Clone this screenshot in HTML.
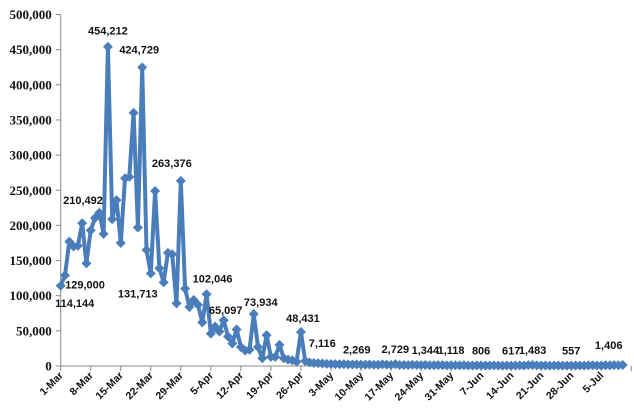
<!DOCTYPE html>
<html><head><meta charset="utf-8"><style>
html,body{margin:0;padding:0;background:#fff;}
svg{display:block;}
.yl{font-family:"Liberation Serif",serif;font-weight:bold;font-size:13px;fill:#111;}
.xl{font-family:"Liberation Sans",sans-serif;font-weight:bold;font-size:10.5px;fill:#111;}
.dl{font-family:"Liberation Sans",sans-serif;font-weight:bold;font-size:11px;fill:#111;}
</style></head><body>
<svg id="chart" width="634" height="408" viewBox="0 0 634 408" xmlns="http://www.w3.org/2000/svg"></svg>
<script>
const values = [114144,129000,177000,170000,171000,203000,146000,193000,210492,218000,188000,454212,209000,236000,175000,267000,269000,360000,197000,424729,165000,131713,249000,139000,119000,161000,159000,89000,263376,
110000,84000,94000,87000,62000,102046,46000,56000,49000,65097,42000,32000,52000,27000,22000,23000,73934,27000,11000,44000,13000,13000,30000,11000,9000,8000,6000,48431,
7116,5200,4300,3900,3600,3100,2900,2700,2500,2600,2300,2100,2269,2000,1900,2200,1800,1700,2400,1900,1600,2729,1500,1400,1300,1700,1500,1200,1344,1100,1000,1300,1200,900,1118,1000,900,1100,800,700,900,806,700,650,900,800,600,700,617,800,900,700,1200,1483,900,800,700,600,750,650,500,600,557,700,800,600,900,1000,700,800,1100,900,1200,1000,1406];
const tickLabels = ["1-Mar","8-Mar","15-Mar","22-Mar","29-Mar","5-Apr","12-Apr","19-Apr","26-Apr","3-May","10-May","17-May","24-May","31-May","7-Jun","14-Jun","21-Jun","28-Jun","5-Jul"];
const yTicks = [0,50000,100000,150000,200000,250000,300000,350000,400000,450000,500000];
const labelIdx = [0,1,8,11,19,21,28,34,38,45,56,57,69,78,85,91,98,105,110,119,131];
const labelDx = [14,20,-12,0,-3,-13,-9,6,2,7,2,17,0,0,0,0,0,0,0,0,-14];
const labelDy = [21,13,-14,-12,-14,24,-14,-12,-6,-8,-10,-14,-11,-11,-11,-11,-11,-11,-11,-11,-16];

const svg = document.getElementById('chart');
const NS = 'http://www.w3.org/2000/svg';
const X0 = 60.7, DX = 4.29, Y0 = 366, YTOP = 14.5, YMAX = 500000;
const xS = i => X0 + i * DX;
const yS = v => Y0 - (v / YMAX) * (Y0 - YTOP);
const fmt = v => v.toLocaleString('en-US');
function mk(tag, attrs) { const e = document.createElementNS(NS, tag); for (const k in attrs) e.setAttribute(k, attrs[k]); svg.appendChild(e); return e; }

// axes
let a = mk('line', {x1: X0, y1: YTOP, x2: X0, y2: Y0, stroke: '#888', 'stroke-width': 1});


a = mk('line', {x1: X0, y1: Y0, x2: xS(131) + 4, y2: Y0, stroke: '#888', 'stroke-width': 1});



yTicks.forEach(v => {
  const y = yS(v);
  mk('line', {x1: X0 - 5, y1: y, x2: X0, y2: y, stroke: '#888'});
  const t = mk('text', {x: X0 - 9, y: y + 4.5, 'text-anchor': 'end', class: 'yl'});
  t.textContent = fmt(v);
  
  
});

for (let w = 0; w * 7 <= 133; w++) {
  const x = xS(w * 7);
  mk('line', {x1: x, y1: Y0, x2: x, y2: Y0 + 5, stroke: '#888'});
}
tickLabels.forEach((s, k) => {
  const x = xS(k * 7);
  const t = mk('text', {x: x + 3, y: Y0 + 10, 'text-anchor': 'end', class: 'xl', transform: `rotate(-45 ${x + 3} ${Y0 + 10})`});
  t.textContent = s;
  
  
});

// line
const pts = values.map((v, i) => xS(i).toFixed(1) + ',' + yS(v).toFixed(1)).join(' ');
const line = mk('polyline', {points: pts, fill: 'none', stroke: '#4a7ebb', 'stroke-width': 4, 'stroke-linejoin': 'round'});


values.forEach((v, i) => {
  const x = xS(i), y = yS(v), r = 5;
  const p = mk('polygon', {points: `${x},${y - r} ${x + r},${y} ${x},${y + r} ${x - r},${y}`, fill: '#4a7ebb'});
  
  
});

// data labels
labelIdx.forEach((i, k) => {
  const last = i === values.length - 1;
  const t = mk('text', {x: xS(i) + labelDx[k], y: yS(values[i]) + labelDy[k], 'text-anchor': 'middle', class: 'dl'});
  if (last) { t.setAttribute('font-size', '16'); }
  t.textContent = fmt(values[i]);
  
  
});
</script>
</body></html>
